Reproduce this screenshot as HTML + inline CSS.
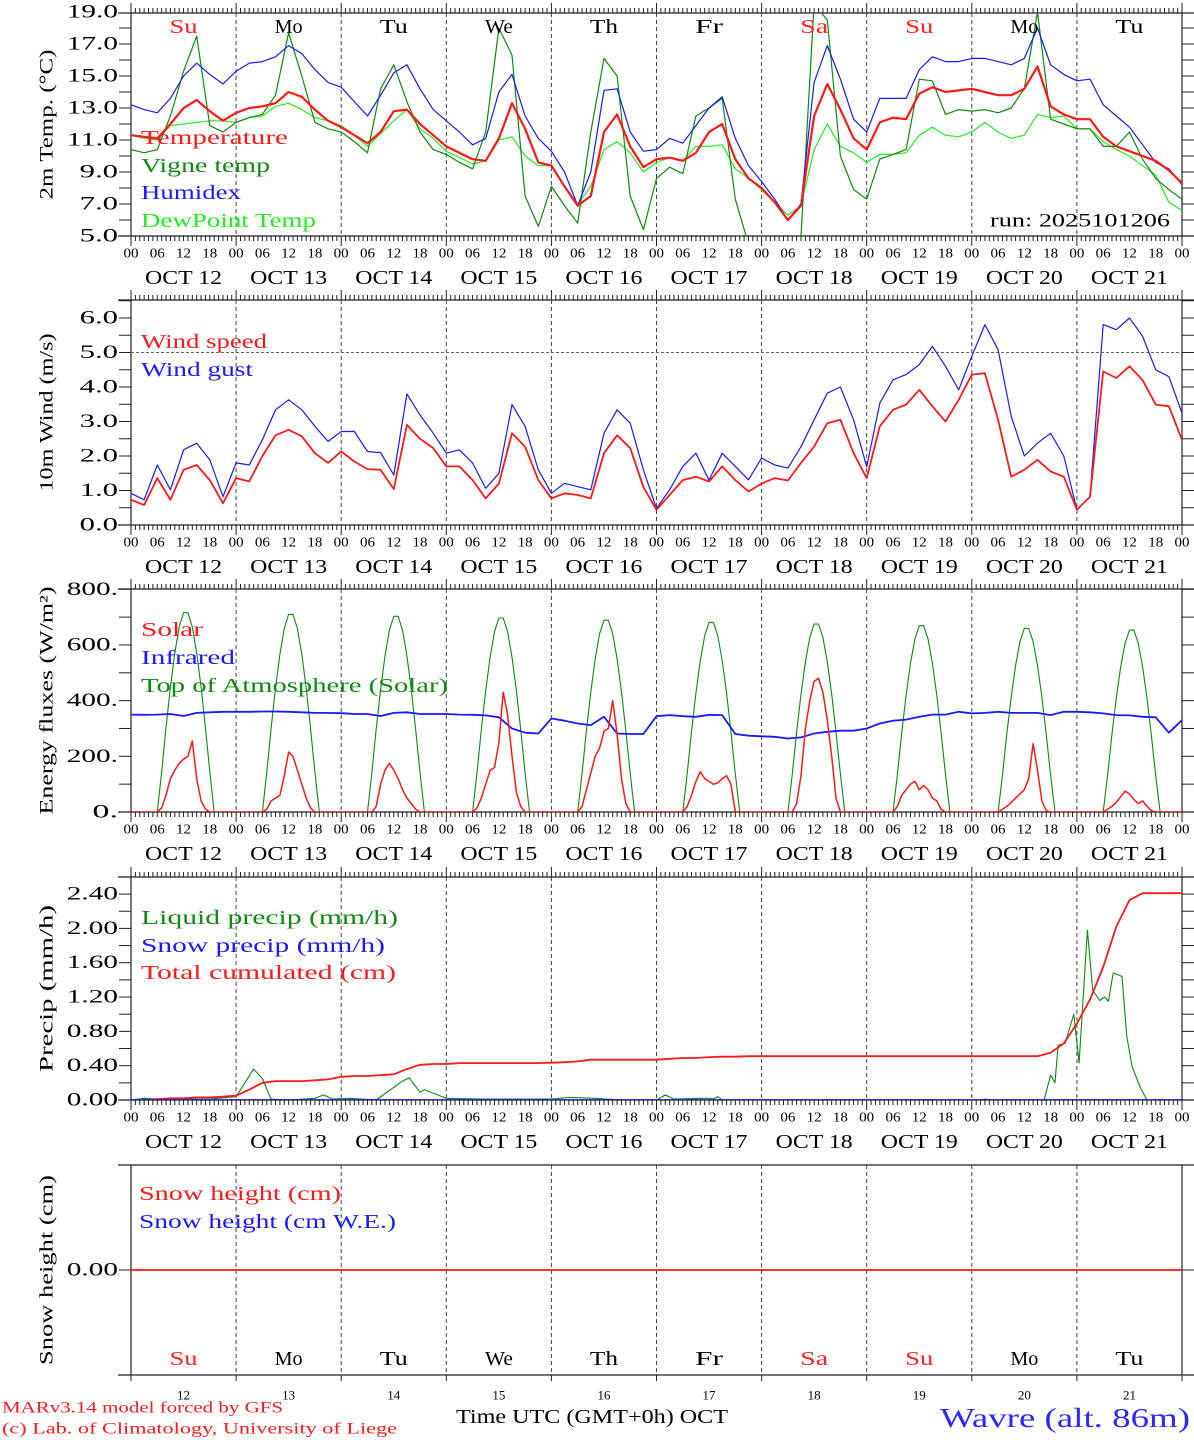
<!DOCTYPE html>
<html><head><meta charset="utf-8"><title>MAR forecast Wavre</title>
<style>
html,body{margin:0;padding:0;background:#fff;}
svg{display:block;font-family:"Liberation Serif",serif;}
</style></head>
<body>
<svg id="chart" width="1194" height="1440" viewBox="0 0 1194 1440" xmlns="http://www.w3.org/2000/svg"></svg>
<script>
// ---------- DATA (3-hourly, Oct 12 00h .. Oct 22 00h) ----------
const dayLabels = ["12","13","14","15","16","17","18","19","20","21"];
const dayNames = ["Su","Mo","Tu","We","Th","Fr","Sa","Su","Mo","Tu"];
const dayNameRed = [true,false,false,false,false,false,true,true,false,false];
const hourTickLabels = ["00","06","12","18"];

const temperature = [11.3,11.2,11.1,12.0,13.0,13.5,12.8,12.2, 12.7,13.0,13.1,13.3,14.0,13.7,12.9,12.2, 11.8,11.3,10.8,11.5,12.8,12.9,12.0,11.3, 10.6,10.2,9.8,9.7,11.1,13.3,11.7,9.6, 9.4,8.1,6.9,7.5,11.5,12.6,10.6,9.3, 9.8,9.9,9.7,10.2,11.5,12.0,9.8,8.6, 8.0,7.1,6.0,6.9,12.5,14.5,12.9,11.1, 10.4,12.1,12.4,12.3,13.9,14.3,14.0,14.1, 14.2,14.0,13.8,13.8,14.2,15.6,13.1,12.6, 12.3,12.3,11.2,10.6,10.3,10.0,9.7,9.1,8.3];
const vigneTemp = [10.4,10.2,10.4,12.5,15.3,17.5,11.9,11.5, 12.1,12.4,12.6,13.8,17.7,15.0,12.1,11.7, 11.5,10.9,10.2,14.2,15.7,13.4,11.5,10.4, 10.1,9.6,9.2,11.5,18.0,16.3,7.5,5.6, 8.1,6.9,5.8,11.5,16.1,15.0,7.5,5.4, 8.6,9.3,8.9,12.5,13.0,13.6,7.3,4.5, 3.0,3.0,4.5,5.0,19.5,18.5,10.0,7.9, 7.3,9.8,10.1,10.4,14.8,14.7,12.6,12.9, 12.8,12.9,12.7,13.0,14.2,19.0,12.3,12.0, 11.7,11.7,10.6,10.6,11.5,9.8,8.6,7.9,7.3];
const humidex = [13.2,12.9,12.7,13.6,15.0,15.8,15.1,14.5, 15.3,15.8,15.9,16.2,16.9,16.4,15.4,14.6, 14.3,13.4,12.5,13.8,15.2,15.7,14.2,12.9, 12.2,11.5,10.7,11.1,14.0,15.1,12.5,11.1, 10.3,9.0,6.9,9.0,14.1,14.2,11.5,10.3, 10.4,11.1,10.8,11.9,13.0,13.7,11.1,9.4, 8.4,7.3,6.0,7.0,14.6,16.9,14.8,12.3, 11.5,13.6,13.6,13.6,15.4,16.2,15.9,15.9, 16.1,16.1,15.9,15.7,16.1,18.0,15.7,15.1, 14.7,14.8,13.2,12.5,11.8,10.7,9.6,9.2,8.2];
const dewPoint = [11.3,11.1,11.0,11.9,12.0,12.1,12.2,12.2, 12.1,12.4,12.5,13.1,13.3,12.9,12.4,12.2, 11.9,11.3,10.6,11.4,12.2,12.9,11.7,11.1, 10.3,9.9,9.5,9.7,11.0,11.2,10.0,9.4, 9.4,8.1,7.0,8.1,10.4,10.9,10.2,9.0, 9.6,9.9,9.7,10.6,10.6,10.7,9.2,8.6, 7.9,7.1,6.3,6.9,10.4,12.0,10.6,10.2, 9.6,10.1,10.1,10.2,11.3,11.8,11.3,11.2, 11.5,12.1,11.5,11.1,11.3,12.6,12.4,12.5, 11.7,11.7,10.9,10.4,10.0,9.4,8.8,7.1,6.6];

const windSpeed = [0.73,0.58,1.36,0.73,1.6,1.74,1.3,0.63, 1.36,1.26,2.0,2.6,2.76,2.57,2.08,1.8, 2.13,1.84,1.62,1.6,1.04,2.9,2.5,2.23, 1.7,1.7,1.3,0.77,1.2,2.66,2.27,1.3, 0.77,0.92,0.87,0.77,2.08,2.6,2.23,1.1, 0.44,0.87,1.3,1.4,1.26,1.7,1.3,0.97, 1.2,1.36,1.29,1.8,2.27,2.95,3.05,2.08, 1.36,2.86,3.34,3.49,3.92,3.44,3.0,3.63, 4.36,4.4,3.05,1.4,1.6,1.89,1.55,1.4, 0.44,0.82,4.45,4.26,4.6,4.2,3.49,3.44,2.47];
const windGust = [0.92,0.73,1.74,1.02,2.18,2.37,1.89,0.82, 1.8,1.74,2.47,3.34,3.63,3.34,2.86,2.42, 2.71,2.71,2.13,2.1,1.45,3.8,3.19,2.66, 2.08,2.18,1.8,1.06,1.5,3.49,2.86,1.6, 0.92,1.21,1.11,1.02,2.66,3.34,2.95,1.6, 0.48,1.02,1.7,2.08,1.3,2.08,1.7,1.31, 1.94,1.74,1.65,2.27,3.05,3.82,4.0,3.05, 1.69,3.53,4.21,4.36,4.65,5.18,4.6,3.92, 4.89,5.81,5.08,3.15,2.0,2.37,2.66,2.0, 0.44,0.82,5.81,5.66,6.0,5.47,4.5,4.3,3.24];

const infrared = [350,349,350,352,345,356,358,360, 360,360,361,361,360,358,356,356, 355,352,352,345,356,358,352,352, 352,350,349,347,340,300,285,282, 336,328,318,312,342,282,280,280, 344,348,344,342,349,348,280,274, 272,270,264,268,282,288,292,292, 300,318,328,332,342,350,350,360, 354,356,360,356,356,356,348,360, 360,358,354,348,347,342,340,285,330];
// solar: hourly values for hours 06..19 of each day
const solarByDay = [
 [0,15,60,120,150,175,190,200,255,120,40,10,0,0],
 [0,10,40,50,60,130,215,200,150,100,50,15,0,0],
 [0,0,20,100,150,175,150,120,80,50,30,10,0,0],
 [0,15,50,100,150,160,250,430,350,200,70,20,0,0],
 [0,20,80,140,200,230,290,300,400,280,120,30,0,0],
 [0,20,60,110,145,120,110,100,105,120,130,100,0,0],
 [0,0,30,130,300,400,470,480,430,330,200,50,0,0],
 [0,20,60,80,100,110,80,95,80,50,40,10,0,0],
 [0,10,20,35,50,65,80,120,245,150,40,5,0,0],
 [0,10,20,35,55,75,65,45,30,40,20,5,0,0]];
const toaPeak = [723,717,710,704,696,688,682,676,666,660];
const toaShape = [0,0.2,0.42,0.62,0.79,0.92,0.99,0.99,0.92,0.79,0.62,0.42,0.2,0];

const cumulPrecip = [0,0,0.01,0.02,0.02,0.03,0.03,0.04, 0.05,0.12,0.2,0.22,0.22,0.22,0.23,0.24, 0.27,0.28,0.28,0.29,0.3,0.36,0.41,0.42, 0.42,0.43,0.43,0.43,0.43,0.43,0.43,0.43, 0.435,0.44,0.45,0.47,0.47,0.47,0.47,0.47, 0.47,0.48,0.49,0.49,0.5,0.505,0.505,0.51, 0.51,0.51,0.51,0.51,0.51,0.51,0.51,0.51, 0.51,0.51,0.51,0.51,0.51,0.51,0.51,0.51, 0.51,0.51,0.51,0.51,0.51,0.51,0.55,0.66, 0.89,1.17,1.55,2.02,2.33,2.41,2.41,2.41,2.41];
const liquidHours = [0,3,6,12,18,22,24,26,28,30,32,36,42,44,46,50,56,62,63.5,66,67,72,80,96,100,106,112,120,122,124,130,132,133,134,135,194,195,196,208.5,210,211,211.7,213.3,215.3,216.5,218.4,219.6,221.2,222.3,223.2,224.3,226.3,227.4,228.6,230.5,232,240];
const liquidVals = [0,0.02,0.01,0.01,0.01,0.03,0.04,0.2,0.36,0.25,0.01,0,0.02,0.06,0.01,0.02,0,0.22,0.26,0.09,0.12,0.02,0.01,0.01,0.03,0.02,0,0,0.06,0.01,0.02,0.02,0.01,0.04,0,0,0.01,0,0,0.29,0.2,0.64,0.66,1.0,0.43,1.98,1.28,1.16,1.2,1.15,1.48,1.44,0.74,0.39,0.14,0,0];
const snowPrecip = [0,0];
const snowHeight = [0,0];

// ---------- drawing ----------
const NS = "http://www.w3.org/2000/svg";
const svg = document.getElementById("chart");
const X0 = 131, X1 = 1182, HOURS = 240;
function xs(h){ return X0 + h * (X1 - X0) / HOURS; }
function mk(tag, attrs, parent){
  const e = document.createElementNS(NS, tag);
  for (const k in attrs) e.setAttribute(k, attrs[k]);
  (parent || svg).appendChild(e);
  return e;
}
function txt(str, x, y, size, fill, anchor, len, parent){
  const e = mk("text", {x:x, y:y, "font-size":size, fill:fill, "text-anchor":anchor||"start", "dominant-baseline":"central", "font-family":"\"Liberation Serif\", serif"}, parent);
  if (len){ e.setAttribute("textLength", len); e.setAttribute("lengthAdjust", "spacingAndGlyphs"); }
  e.textContent = str;
  return e;
}
const panels = [
  {id:"temp", top:13, bot:236, base:236, vmin:5, k:16, major:[5,7,9,11,13,15,17,19], minor:[6,8,10,12,14,16,18], fmt:v=>v.toFixed(1), title:"2m Temp. (°C)", tlen:150},
  {id:"wind", top:300, bot:525, base:525, vmin:0, k:34.5, major:[0,1,2,3,4,5,6], minor:[0.5,1.5,2.5,3.5,4.5,5.5,6.5], fmt:v=>v.toFixed(1), title:"10m Wind (m/s)", tlen:158},
  {id:"energy", top:589, bot:812, base:812, vmin:0, k:0.2784, major:[0,200,400,600,800], minor:[100,300,500,700], fmt:v=>v.toFixed(0)+".", title:"Energy fluxes (W/m²)", tlen:228},
  {id:"precip", top:877, bot:1100, base:1100, vmin:0, k:85.8, major:[0,0.4,0.8,1.2,1.6,2.0,2.4], minor:[0.2,0.6,1.0,1.4,1.8,2.2,2.6], fmt:v=>v.toFixed(2), title:"Precip (mm/h)", tlen:167},
  {id:"snow", top:1165, bot:1375, base:1270, vmin:0, k:50, major:[0], minor:[], fmt:v=>v.toFixed(2), title:"Snow height (cm)", tlen:190}
];
function ys(p, v){ return p.base - (v - p.vmin) * p.k; }

panels.forEach((p, pi) => {
  const g = mk("g", {});
  
  
  const clip = mk("clipPath", {id:"clip-"+p.id}, g);
  mk("rect", {x:X0, y:p.top, width:X1-X0, height:p.bot-p.top}, clip);
  const frame = mk("g", {stroke:"#222", "stroke-width":1.2, fill:"none"}, g);
  
  
  mk("line", {x1:118, y1:p.top, x2:1194, y2:p.top}, frame);
  mk("line", {x1:118, y1:p.bot, x2:1194, y2:p.bot}, frame);
  mk("line", {x1:X0, y1:p.top, x2:X0, y2:p.bot}, frame);
  mk("line", {x1:X1, y1:p.top, x2:X1, y2:p.bot}, frame);
  const seps = mk("g", {stroke:"#444", "stroke-width":1, "stroke-dasharray":"4,3"}, g);
  
  
  for (let d = 1; d < 10; d++) mk("line", {x1:xs(d*24), y1:p.top, x2:xs(d*24), y2:p.bot}, seps);
  const xt = mk("g", {stroke:"#222", "stroke-width":1}, g);
  
  
  for (let h = 0; h <= HOURS; h++){
    const x = xs(h);
    if (p.id === "snow"){
      if (h % 24 === 0) mk("line", {x1:x, y1:p.bot, x2:x, y2:p.bot+6}, xt);
      continue;
    }
    const len = (h % 24 === 0) ? 10 : 5;
    mk("line", {x1:x, y1:p.top, x2:x, y2:p.top-len}, xt);
    mk("line", {x1:x, y1:p.bot, x2:x, y2:p.bot+len}, xt);
  }
  const yt = mk("g", {stroke:"#222", "stroke-width":1}, g);
  
  
  p.major.concat(p.minor).forEach(v => {
    const y = ys(p, v);
    if (y < p.top - 0.5) return;
    mk("line", {x1:119, y1:y, x2:X0, y2:y}, yt);
    mk("line", {x1:X1, y1:y, x2:1194, y2:y}, yt);
  });
  p.major.forEach(v => {
    const s = p.fmt(v);
    const t = txt(s, 118, ys(p, v), 19, "#000", "end", s.length*12.8, g);
    
    
  });
  const cy = (p.top + p.bot) / 2;
  const yt2 = txt(p.title, 0, 0, 19, "#000", "middle", p.tlen, g);
  yt2.setAttribute("transform", "translate(47," + cy + ") rotate(-90)");
  
  
  if (p.id !== "snow"){
    for (let d = 0; d < 10; d++){
      hourTickLabels.forEach((s, i) => {
        const t = txt(s, xs(d*24 + i*6), p.bot + 18, 14, "#000", "middle", 15, g);
        
        
      });
      const t2 = txt("OCT " + dayLabels[d], xs(d*24 + 12), p.bot + 42, 20, "#000", "middle", 77, g);
      
      
    }
    const t3 = txt("00", xs(240), p.bot + 18, 14, "#000", "middle", 15, g);
    
    
  }
  p.g = g;
});

function series(p, hours, vals, color, width, name){
  const pts = hours.map((h, i) => xs(h).toFixed(1) + "," + ys(p, vals[i]).toFixed(1)).join(" ");
  const e = mk("polyline", {points:pts, fill:"none", stroke:color, "stroke-width":width, "stroke-linejoin":"round", "clip-path":"url(#clip-"+p.id+")"}, p.g);
  
  
  return e;
}
const hours3 = temperature.map((_, i) => i * 3);

// Panel 1
const P1 = panels[0];
series(P1, hours3, dewPoint, "#22ee22", 1.2, "dewpoint-line");
series(P1, hours3, vigneTemp, "#118811", 1.2, "vigne-temp-line");
series(P1, hours3, humidex, "#1a1aff", 1.2, "humidex-line");
series(P1, hours3, temperature, "#ff1a1a", 2.2, "temperature-line");
for (let d = 0; d < 10; d++){
  const t = txt(dayNames[d], xs(d*24+12), 27, 20, dayNameRed[d] ? "#ff2020" : "#000", "middle", 28, P1.g);
  
  
}
[["Temperature","#ff1a1a",138,147],["Vigne temp","#118811",166,129],["Humidex","#1a1aff",193,100],["DewPoint Temp","#22ee22",221,175]].forEach(l => {
  const t = txt(l[0], 141, l[2], 20, l[1], "start", l[3], P1.g);
  
  
});
const run = txt("run: 2025101206", 1170, 221, 19, "#000", "end", 180, P1.g);



// Panel 2
const P2 = panels[1];
const ref5 = mk("line", {x1:X0, y1:ys(P2,5), x2:X1, y2:ys(P2,5), stroke:"#666", "stroke-width":1, "stroke-dasharray":"3,2"}, P2.g);


series(P2, hours3, windGust, "#1a1aff", 1.2, "wind-gust-line");
series(P2, hours3, windSpeed, "#ff1a1a", 1.8, "wind-speed-line");
[["Wind speed","#ff1a1a",342,126],["Wind gust","#1a1aff",370,112]].forEach(l => {
  const t = txt(l[0], 141, l[2], 20, l[1], "start", l[3], P2.g);
  
  
});

// Panel 3
const P3 = panels[2];
const hHours = [], toaVals = [], solVals = [];
for (let d = 0; d < 10; d++){
  for (let h = 0; h < 24; h++){
    hHours.push(d*24 + h);
    const inDay = h >= 6 && h <= 19;
    toaVals.push(inDay ? toaPeak[d] * toaShape[h-6] : 0);
    solVals.push(inDay ? solarByDay[d][h-6] : 0);
  }
}
hHours.push(240); toaVals.push(0); solVals.push(0);
series(P3, hHours, toaVals, "#118811", 1.1, "toa-solar-line");
series(P3, hours3, infrared, "#1a1aff", 1.8, "infrared-line");
series(P3, hHours, solVals, "#ff1a1a", 1.5, "solar-line");
[["Solar","#ff1a1a",630,62],["Infrared","#1a1aff",658,94],["Top of Atmosphere (Solar)","#118811",686,307]].forEach(l => {
  const t = txt(l[0], 141, l[2], 20, l[1], "start", l[3], P3.g);
  
  
});

// Panel 4
const P4 = panels[3];
series(P4, liquidHours, liquidVals, "#118811", 1.1, "liquid-precip-line");
series(P4, hours3, cumulPrecip, "#ff1a1a", 1.8, "cumulated-precip-line");
series(P4, [0,240], snowPrecip, "#1a1aff", 1.8, "snow-precip-line");
[["Liquid precip (mm/h)","#118811",918,257],["Snow precip (mm/h)","#1a1aff",946,244],["Total cumulated (cm)","#ff1a1a",973,255]].forEach(l => {
  const t = txt(l[0], 141, l[2], 20, l[1], "start", l[3], P4.g);
  
  
});

// Panel 5
const P5 = panels[4];
series(P5, [0,240], snowHeight, "#ff1a1a", 1.8, "snow-height-line");
[["Snow height (cm)","#ff1a1a",1194,202],["Snow height (cm W.E.)","#1a1aff",1222,257]].forEach(l => {
  const t = txt(l[0], 139, l[2], 20, l[1], "start", l[3], P5.g);
  
  
});
for (let d = 0; d < 10; d++){
  const t = txt(dayNames[d], xs(d*24+12), 1359, 20, dayNameRed[d] ? "#ff2020" : "#000", "middle", 28, P5.g);
  
  
  const n = txt(dayLabels[d], xs(d*24+12), 1395, 13, "#000", "middle", 13, P5.g);
  
  
}

// footer
const f1 = txt("MARv3.14 model forced by GFS", 2, 1408, 16, "#ff1a1a", "start", 281);


const f2 = txt("(c) Lab. of Climatology, University of Liege", 2, 1429, 16, "#ff1a1a", "start", 395);


const xt = txt("Time UTC (GMT+0h) OCT", 592, 1417, 20, "#000", "middle", 272);


const loc = txt("Wavre (alt. 86m)", 1190, 1418, 27, "#2a2aff", "end", 250);


</script>
</body></html>
